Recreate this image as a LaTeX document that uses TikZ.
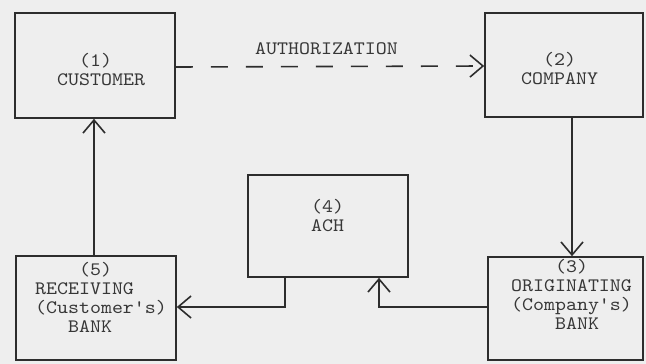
\documentclass[tikz,border=0pt]{standalone}
\usepackage{fontspec}
\setmonofont{lmmono10-regular.otf}[FakeStretch=1.1]
\usetikzlibrary{arrows.meta}
\definecolor{bg}{RGB}{238,238,238}
\definecolor{ink}{RGB}{45,45,45}
\definecolor{tx}{RGB}{55,55,55}
\newcommand{\ch}[1]{\hspace*{#1\dimexpr 11pt\relax}}
\begin{document}
\begin{tikzpicture}[x=1pt,y=-1pt,
  box/.style={draw=ink,line width=1.6pt,rectangle,inner sep=0pt},
  lbl/.style={anchor=base west,inner sep=0pt,align=left,text=tx,font=\ttfamily\fontsize{19}{19}\selectfont},
  conn/.style={draw=ink,line width=1.6pt,-{Straight Barb[length=13pt,width=22pt,line width=1.6pt]}}]
\fill[bg] (0,0) rectangle (646,364);
\useasboundingbox (0,0) rectangle (646,364);
% boxes
\node[box,minimum width=160pt,minimum height=105pt] (b1) at (95,65.5) {};
\node[box,minimum width=158pt,minimum height=104pt] (b2) at (564,65) {};
\node[box,minimum width=155pt,minimum height=103pt] (b3) at (565.5,308.5) {};
\node[box,minimum width=160pt,minimum height=102pt] (b4) at (328,226) {};
\node[box,minimum width=160pt,minimum height=104pt] (b5) at (96,308) {};
% texts (anchor is baseline of the last line)
\node[lbl] (t1) at (57,85) {\ch{2}(1)\\CUSTOMER};
\node[lbl] (t2) at (521,84) {\ch{2}(2)\\COMPANY};
\node[lbl] (t3) at (511,329) {\ch{4}(3)\\ORIGINATING\\(Company's)\\\ch{4}BANK};
\node[lbl] (t4) at (311,231) {(4)\\ACH};
\node[lbl] (t5) at (35,332) {\ch{4}(5)\\RECEIVING\\(Customer's)\\\ch{3}BANK};
\node[lbl] (auth) at (255,54) {AUTHORIZATION};
% connectors
\draw[conn,dash pattern=on 17pt off 18pt] ([yshift=-1.5pt]b1.east) -- ([yshift=-1pt]b2.west);
\draw[conn] ([xshift=8pt]b2.south) -- ([xshift=8pt]b2.south |- b3.north);
\draw[conn] ([yshift=1.5pt]b3.west) -| ([xshift=51pt]b4.south);
\draw[conn] ([xshift=-43pt]b4.south) |- ([yshift=1pt]b5.east);
\draw[conn] ([xshift=-2pt]b5.north) -- ([xshift=-2pt]b5.north |- b1.south);
\end{tikzpicture}
\end{document}
